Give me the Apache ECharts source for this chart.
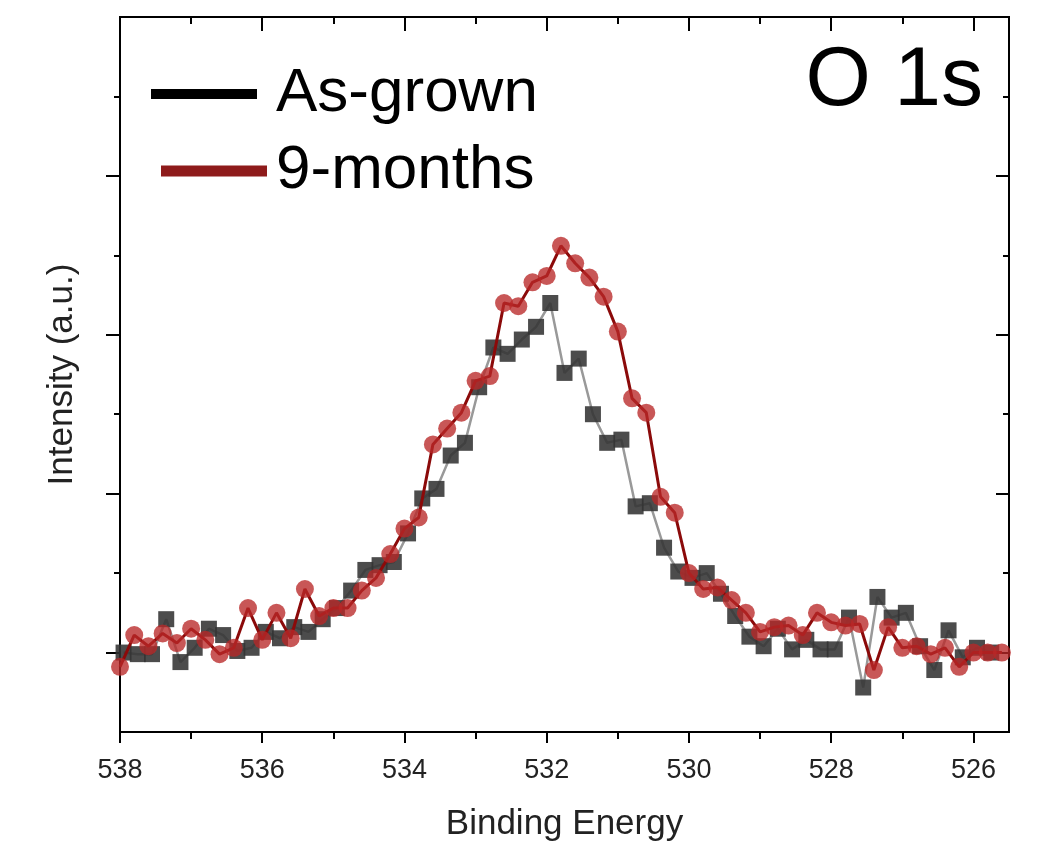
<!DOCTYPE html>
<html>
<head>
<meta charset="utf-8">
<title>O 1s</title>
<script src="https://cdn.jsdelivr.net/npm/echarts@6/dist/echarts.min.js"></script>
<style>
    html, body { margin: 0; padding: 0; background: #fff; }
    #charts { width: 1041px; height: 847px; }
</style>
</head>
<body>
<div id="charts"></div>
<script>
// binding energies (eV) of the two scans
const energy9m = [
    538.0, 537.8, 537.6, 537.4, 537.2, 537.0, 536.8, 536.6, 536.4, 536.2,
    536.0, 535.8, 535.6, 535.4, 535.2, 535.0, 534.8, 534.6, 534.4, 534.2,
    534.0, 533.8, 533.6, 533.4, 533.2, 533.0, 532.8, 532.6, 532.4, 532.2,
    532.0, 531.8, 531.6, 531.4, 531.2, 531.0, 530.8, 530.6, 530.4, 530.2,
    530.0, 529.8, 529.6, 529.4, 529.2, 529.0, 528.8, 528.6, 528.4, 528.2,
    528.0, 527.8, 527.6, 527.4, 527.2, 527.0, 526.8, 526.6, 526.4, 526.2,
    526.0, 525.8, 525.6
];
const intensity9m = [
    -0.09, 0.11, 0.04, 0.12, 0.06, 0.15, 0.08, -0.01, 0.03, 0.28,
    0.08, 0.25, 0.09, 0.40, 0.23, 0.28, 0.28, 0.39, 0.47, 0.62,
    0.78, 0.85, 1.31, 1.41, 1.51, 1.71, 1.74, 2.20, 2.18, 2.33,
    2.37, 2.56, 2.45, 2.36, 2.24, 2.02, 1.60, 1.51, 0.98, 0.88,
    0.50, 0.40, 0.41, 0.33, 0.25, 0.13, 0.16, 0.17, 0.11, 0.25,
    0.19, 0.17, 0.18, -0.11, 0.16, 0.03, 0.04, -0.01, 0.03, -0.09,
    0.00, 0.00, 0.00
];
const energyGrown = [
    537.95, 537.75, 537.55, 537.35, 537.15, 536.95, 536.75, 536.55, 536.35, 536.15,
    535.95, 535.75, 535.55, 535.35, 535.15, 534.95, 534.75, 534.55, 534.35, 534.15,
    533.95, 533.75, 533.55, 533.35, 533.15, 532.95, 532.75, 532.55, 532.35, 532.15,
    531.95, 531.75, 531.55, 531.35, 531.15, 530.95, 530.75, 530.55, 530.35, 530.15,
    529.95, 529.75, 529.55, 529.35, 529.15, 528.95, 528.75, 528.55, 528.35, 528.15,
    527.95, 527.75, 527.55, 527.35, 527.15, 526.95, 526.75, 526.55, 526.35, 526.15,
    525.95, 525.75
];
const intensityGrown = [
    0.00, -0.01, -0.01, 0.21, -0.06, 0.03, 0.15, 0.11, 0.01, 0.03,
    0.13, 0.09, 0.16, 0.13, 0.21, 0.28, 0.39, 0.52, 0.55, 0.57,
    0.75, 0.97, 1.03, 1.24, 1.32, 1.67, 1.92, 1.88, 1.97, 2.05,
    2.20, 1.76, 1.85, 1.50, 1.32, 1.34, 0.92, 0.94, 0.66, 0.51,
    0.47, 0.50, 0.37, 0.23, 0.10, 0.04, 0.15, 0.02, 0.08, 0.02,
    0.02, 0.22, -0.22, 0.35, 0.22, 0.25, 0.04, -0.11, 0.14, -0.03,
    0.03, 0.00
];
const xMajor = [526, 528, 530, 532, 534, 536, 538];
const xMinor = [527, 529, 531, 533, 535, 537];
const yMajor = [0, 1, 2, 3];
const yMinor = [0.5, 1.5, 2.5, 3.5];

const FONT = 'Liberation Sans';
const black = '#000';

// build one axis; the frame is drawn by several overlaid axes (major + minor ticks)
let makeAxis = (position, ticks, len, inside, extra) => Object.assign({
    type: 'value',
    position: position,
    splitLine: { show: false },
    axisLine: { show: true, onZero: false, lineStyle: { color: black, width: 2 } },
    axisTick: { show: true, inside: inside, length: len, customValues: ticks, lineStyle: { color: black, width: 2 } },
    axisLabel: { show: false }
}, extra);

const xRange = { min: 525.5, max: 538, inverse: true };
const yRange = { min: -0.5, max: 4 };

const chart = echarts.init(document.getElementById('charts'));
chart.setOption({
    backgroundColor: '#fff',
    animation: false,
    textStyle: { fontFamily: FONT },
    title: {
        text: 'O 1s',
        right: 58,
        top: 40,
        padding: 0,
        textStyle: { fontFamily: FONT, fontSize: 84, fontWeight: 'normal', color: black }
    },
    legend: [
        {
            left: 146,
            top: 58,
            icon: 'rect',
            itemWidth: 106,
            itemHeight: 10,
            data: [{ name: 'As-grown', itemStyle: { color: black, opacity: 1 } }],
            textStyle: { fontFamily: FONT, fontSize: 62, color: black, padding: [8, 0, 0, 14] }
        },
        {
            left: 156,
            top: 135,
            icon: 'rect',
            itemWidth: 106,
            itemHeight: 11,
            data: [{ name: '9-months', itemStyle: { color: '#8e1b1b', opacity: 1 } }],
            textStyle: { fontFamily: FONT, fontSize: 62, color: black, padding: [8, 0, 0, 4] }
        }
    ],
    grid: { left: 120, right: 32, top: 17, bottom: 115 },
    xAxis: [
        makeAxis('bottom', xMajor, 11, false, Object.assign({
            name: 'Binding Energy',
            nameLocation: 'middle',
            nameGap: 75,
            nameTextStyle: { fontFamily: FONT, fontSize: 35, color: '#222' },
            axisLabel: { show: true, customValues: xMajor, margin: 25, fontFamily: FONT, fontSize: 27, color: '#222' }
        }, xRange)),
        makeAxis('bottom', xMinor, 7, false, xRange),
        makeAxis('top', xMajor, 14, true, xRange),
        makeAxis('top', xMinor, 7, true, xRange)
    ],
    yAxis: [
        makeAxis('left', yMajor, 14, false, Object.assign({
            name: 'Intensity (a.u.)',
            nameLocation: 'middle',
            nameGap: 40,
            nameTextStyle: { fontFamily: FONT, fontSize: 35, color: '#222' }
        }, yRange)),
        makeAxis('left', yMinor, 6, false, yRange),
        makeAxis('right', yMajor, 13, true, yRange),
        makeAxis('right', yMinor, 6, true, yRange)
    ],
    series: [
        {
            name: 'As-grown',
            type: 'line',
            data: energyGrown.map((e, i) => [e, intensityGrown[i]]),
            symbol: 'rect',
            symbolSize: 16,
            itemStyle: { color: '#333', opacity: 0.88 },
            lineStyle: { color: '#999', width: 2.5 },
            z: 2
        },
        {
            name: '9-months',
            type: 'line',
            data: energy9m.map((e, i) => [e, intensity9m[i]]),
            symbol: 'circle',
            symbolSize: 18,
            itemStyle: { color: 'rgba(184,40,40,0.78)' },
            lineStyle: { color: '#8b0a0a', width: 3 },
            z: 3
        }
    ]
});
</script>
</body>
</html>
